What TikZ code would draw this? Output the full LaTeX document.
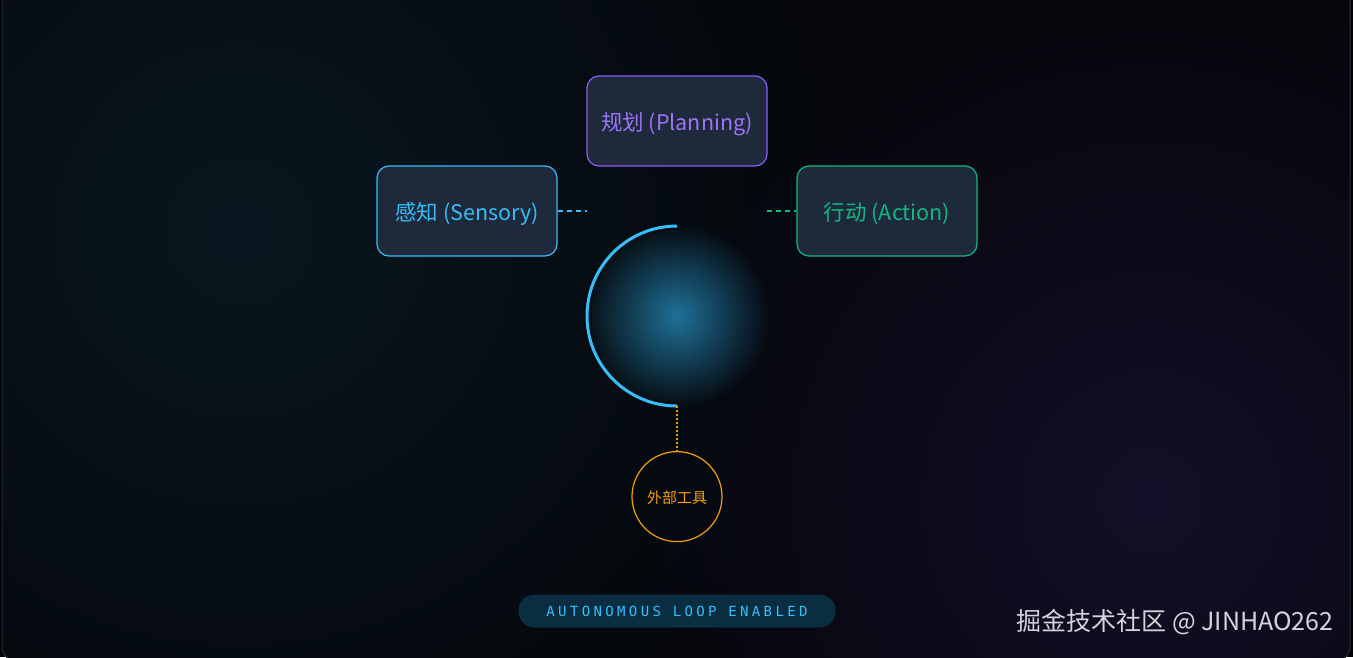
\documentclass[tikz,border=0pt]{standalone}
\usepackage{fontspec}
\setmainfont{Noto Sans CJK SC}
\newfontfamily\monoface[LetterSpace=24]{DejaVu Sans Mono}
\usepackage{tikz}
\usetikzlibrary{positioning,fadings}
\definecolor{bgdeep}{HTML}{05070B}
\definecolor{frame}{HTML}{2E3444}
\definecolor{slate}{HTML}{1E293B}
\definecolor{sky}{HTML}{38BDF8}
\definecolor{violet}{HTML}{8B5CF6}
\definecolor{emerald}{HTML}{10B981}
\definecolor{amber}{HTML}{F59E0B}
\definecolor{glow}{HTML}{1F7198}
\definecolor{pill}{HTML}{0B2D42}
\definecolor{tealhaze}{HTML}{08171F}
\definecolor{plumhaze}{HTML}{150E28}
\definecolor{mark}{HTML}{D4D4DC}
\tikzfading[name=softglow,inner color=transparent!0,outer color=transparent!100]

\begin{document}
\begin{tikzpicture}[x=1pt,y=-1pt,node distance=45pt,stage/.style={draw,fill=slate,rounded corners=12pt,line width=1.2pt,minimum width=180pt,minimum height=90pt,text height=24pt,text depth=5pt,font=\fontsize{21.5}{24}\selectfont},link/.style={dashed,dash pattern=on 5pt off 4pt,line width=1.2pt}]
\useasboundingbox (0,0) rectangle (1353,657);
\fill[black] (0,0) rectangle (1353,657);
\fill[bgdeep,draw=frame,line width=1pt,rounded corners=16pt] (2,-20) rectangle (1350,662);
\begin{scope}
\clip[rounded corners=16pt] (2,-20) rectangle (1350,662);
\fill[tealhaze,path fading=softglow] (240,230) circle (620pt);
\fill[plumhaze,path fading=softglow] (1150,500) circle (520pt);
\end{scope}
% core glow and loop
\coordinate (core) at (677,316);
\fill[glow,path fading=softglow] (core) circle (92pt);
\coordinate (coretop) at (677,226);
\coordinate (corebot) at (677,406);
\draw[sky,line width=3pt] (coretop) arc[start angle=90,end angle=270,radius=90pt];
% stages
\node[stage,draw=violet,text=violet!85!white] (plan) at (677,121) {规划 (Planning)};
\node[stage,draw=sky,text=sky] (sense) at (467,211) {感知 (Sensory)};
\node[stage,draw=emerald,text=emerald] (act) at (887,211) {行动 (Action)};
\coordinate (sensetip) at (587,211);
\coordinate (acttip) at (767,211);
\draw[link,sky] (sense.east) -- (sensetip);
\draw[link,emerald] (acttip) -- (act.west);
% external tools
\node[circle,draw=amber,line width=1.2pt,minimum size=90pt,inner sep=0pt,text height=16pt,text depth=1.6pt,text=amber,font=\fontsize{15}{17}\selectfont,below=45pt of corebot] (tool) {外部工具};
\draw[amber,line width=1.2pt,dash pattern=on 2pt off 2pt] (corebot) -- (tool.north);
% status bar
\node[fill=pill,rounded corners=16pt,minimum width=317pt,minimum height=33pt,text=sky,font=\monoface\fontsize{14}{16}\selectfont] (status) at (677,611) {AUTONOMOUS LOOP ENABLED};
\node[anchor=east,text=mark,font=\fontsize{25}{28}\selectfont] (wm) at (1337,622) {掘金技术社区 @ JINHAO262};
\end{tikzpicture}
\end{document}
